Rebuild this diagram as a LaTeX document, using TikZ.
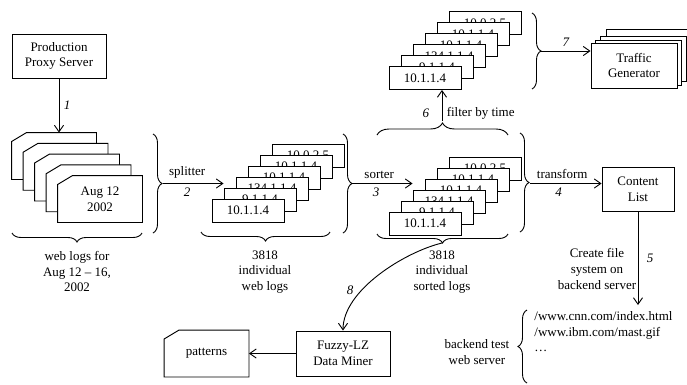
\documentclass[tikz,border=0pt]{standalone}
\usepackage{fontspec}
\setmainfont{Liberation Serif}
\usetikzlibrary{arrows.meta, decorations.pathreplacing}
\newdimen\px \px=0.77pt
\tikzset{
  every picture/.style={line width=0.7pt, x=\px, y=\px},
  blk/.style={draw, fill=white, align=center, inner sep=1pt, minimum height=45\px},
  ipbox/.style={draw, fill=white, minimum width=72\px, minimum height=23\px, inner sep=1pt},
  docbox/.style={inner sep=1pt, minimum width=84\px, minimum height=46\px},
  arrow/.style={-{Straight Barb[length=5pt, width=7pt]}},
  brace/.style={decorate, decoration={brace, amplitude=#1}},
  brace/.default=9\px,
  num/.style={font=\itshape},
  note/.style={align=center, inner sep=0pt},
}
% document shape with a cut top-left corner: name, centre, text
\newcommand\docshape[3]{%
  \node[docbox] (#1) at #2 {};
  \draw[fill=white] ([yshift=-9\px]#1.north west) -- ([xshift=15\px]#1.north west)
    -- (#1.north east) -- (#1.south east) -- (#1.south west) -- cycle;
  \node[align=center] (#1-text) at (#1) {#3};
}

\begin{document}
\begin{tikzpicture}
  \useasboundingbox (0,0) rectangle (687,-384);

  % proxy and raw web logs
  \node[blk, minimum width=94\px, minimum height=44\px] (proxy) at (59,-56) {Production\\Proxy Server};
  \foreach \i in {0,...,3}
    {\docshape{d\i}{(54+11.5*\i,-156-10.75*\i)}{}}
  \docshape{d4}{(100,-199)}{Aug 12\\2002}
  \draw[arrow] (proxy) -- node[num, right] {1} (proxy |- d0.north);
  \draw[brace] (142,-233) -- (12,-233);
  \node[note, anchor=north] (wlnote) at (77,-251) {web logs for\\Aug 12 -- 16,\\2002};

  % individual web logs
  \draw[brace] (153,-134) -- (153,-233);
  \coordinate (b2) at (163,-183.5);
  \foreach \i/\ip in {5/10.0.2.5, 4/10.1.1.4, 3/10.1.1.4, 2/134.1.1.4, 1/9.1.1.4, 0/10.1.1.4}
    \node[ipbox] (s\i) at (248+12*\i,-210.5+11*\i) {\ip};
  \draw[arrow] (b2) -- node[pos=0.4, above] {splitter} node[pos=0.4, below, num] {2} (b2 -| s1.west);
  \draw[brace] (330,-232) -- (201,-232);
  \node[note, anchor=north] (swnote) at (265,-250) {3818\\individual\\web logs};

  % sorted logs
  \draw[brace] (343,-134) -- (343,-233);
  \coordinate (b4) at (352,-183.5);
  \foreach \i/\ip in {5/10.0.2.5, 4/10.1.1.4, 3/10.1.1.4, 2/134.1.1.4, 1/9.1.1.4, 0/10.1.1.4}
    \node[ipbox] (r\i) at (425+12*\i,-223.5+11*\i) {\ip};
  \draw[arrow] (b4) -- node[pos=0.45, above] {sorter} node[pos=0.4, below, num] {3} (b4 -| r2.west);
  \draw[brace] (508,-234) -- (377,-234);
  \coordinate (b6) at (442,-243);
  \node[note, anchor=north] (srnote) at (442,-250) {3818\\individual\\sorted logs};

  % filtered logs and traffic generator
  \draw[brace=12\px] (377,-135) -- (508,-135);
  \coordinate (b5) at (442,-121);
  \foreach \i/\ip in {5/10.0.2.5, 4/10.1.1.4, 3/10.1.1.4, 2/134.1.1.4, 1/9.1.1.4, 0/10.1.1.4}
    \node[ipbox] (t\i) at (425+12*\i,-78+11*\i) {\ip};
  \draw[arrow] (b5) -- node[pos=0.25, left=8\px, num] {6} node[pos=0.25, right=0pt] {filter by time} (b5 |- t0.south);
  \draw[brace] (532,-13) -- (532,-89);
  \coordinate (b8) at (541,-51);
  \foreach \i/\dx/\dy in {3/15/14, 2/9/7, 1/4/3}
    \node[blk, minimum width=86\px] (tg\i) at (634+\dx,-65.5+\dy) {};
  \node[blk, minimum width=86\px] (tg0) at (634,-65.5) {Traffic\\Generator};
  \draw[arrow] (b8) -- node[above, num] {7} (b8 -| tg0.west);

  % content list and backend server
  \draw[brace] (520,-133) -- (520,-232);
  \coordinate (b7) at (530,-183.5);
  \node[blk, minimum width=72\px, minimum height=44\px] (content) at (638,-189) {Content\\List};
  \draw[arrow] (b7) -- node[pos=0.45, above] {transform} node[pos=0.4, below, num] {4} (b7 -| content.west);
  \node[align=left, anchor=north west, inner sep=6\px] (urls) at (528,-305) {/www.cnn.com/index.html\\/www.ibm.com/mast.gif\\\dots};
  \draw[arrow] (content) -- node[right=4\px, num] {5} (content |- urls.north);
  \node[note] (fsnote) at (597,-269) {Create file\\system on\\backend server};
  \draw[brace] (527,-383) -- (527,-310);
  \node[note] (wsnote) at (477,-352) {backend test\\web server};

  % data mining
  \node[blk, minimum width=94\px] (fuzzy) at (343,-353.5) {Fuzzy-LZ\\Data Miner};
  \docshape{patterns}{(206.5,-353.5)}{patterns}
  \draw[arrow] (fuzzy) -- (patterns);
  \draw[arrow] (b6) .. controls (405,-252) and (343,-290) .. node[pos=0.65, left=4\px, num] {8} (fuzzy.north);
\end{tikzpicture}
\end{document}
